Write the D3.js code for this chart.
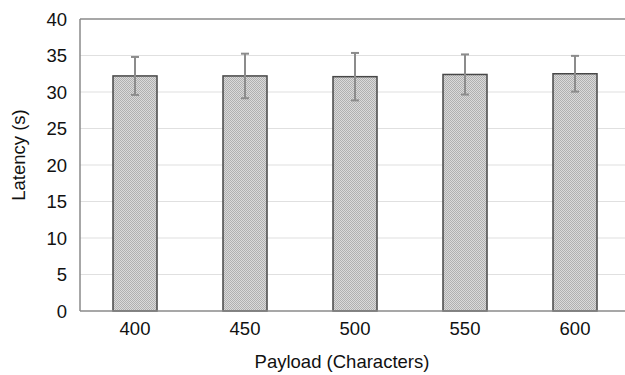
<!DOCTYPE html>
<html><head><meta charset="utf-8">
<script src="https://cdn.jsdelivr.net/npm/d3@7"></script>
<style>body{margin:0;background:#fff}svg{display:block}</style>
</head><body>
<script>
const categories = ["400","450","500","550","600"];
const values = [32.2, 32.2, 32.1, 32.4, 32.5];
const errors = [2.6, 3.05, 3.25, 2.75, 2.45];
const yTicks = [0,5,10,15,20,25,30,35,40];

const W=625,H=375;
const m={left:80,right:-5,top:19,bottom:64};
const svg=d3.select("body").append("svg").attr("width",W).attr("height",H);
const defs=svg.append("defs");
const pat=defs.append("pattern").attr("id","chk").attr("width",2).attr("height",2).attr("patternUnits","userSpaceOnUse");
pat.append("rect").attr("width",2).attr("height",2).attr("fill","#dadada");
pat.append("rect").attr("width",1).attr("height",1).attr("fill","#b0b0b0");
pat.append("rect").attr("x",1).attr("y",1).attr("width",1).attr("height",1).attr("fill","#b0b0b0");

const x=d3.scaleBand().domain(categories).range([m.left,W-m.right]).paddingInner(0.6).paddingOuter(0.3);
const y=d3.scaleLinear().domain([0,40]).range([H-m.bottom,m.top]);
const font="'Liberation Sans', Arial, Helvetica, sans-serif";

svg.append("g").selectAll("line").data(yTicks.filter(d=>d>0)).join("line")
 .attr("x1",m.left).attr("x2",W-m.right).attr("y1",d=>y(d)).attr("y2",d=>y(d))
 .attr("stroke",d=>d===40?"#8a8a8a":"#e0e0e0").attr("stroke-width",d=>d===40?1.5:1.2);
svg.append("line").attr("x1",m.left).attr("x2",m.left).attr("y1",y(40)).attr("y2",y(0)).attr("stroke","#8a8a8a").attr("stroke-width",1.5);

svg.append("g").selectAll("rect").data(values).join("rect")
 .attr("x",(d,i)=>Math.round(x(categories[i]))).attr("width",Math.round(x.bandwidth()))
 .attr("y",d=>y(d)).attr("height",d=>y(0)-y(d))
 .attr("fill","url(#chk)").attr("stroke","#474747").attr("stroke-width",1.5);

svg.append("line").attr("x1",m.left).attr("x2",W-m.right).attr("y1",y(0)).attr("y2",y(0)).attr("stroke","#8a8a8a").attr("stroke-width",1.5);

const eg=svg.append("g").attr("stroke","#8c8c8c").attr("stroke-width",2);
values.forEach((v,i)=>{
  const cx=x(categories[i])+x.bandwidth()/2;
  eg.append("line").attr("x1",cx).attr("x2",cx).attr("y1",y(v+errors[i])).attr("y2",y(v-errors[i]));
  eg.append("line").attr("x1",cx-4).attr("x2",cx+4).attr("y1",y(v+errors[i])).attr("y2",y(v+errors[i]));
  eg.append("line").attr("x1",cx-4).attr("x2",cx+4).attr("y1",y(v-errors[i])).attr("y2",y(v-errors[i]));
});

svg.append("g").selectAll("text").data(yTicks).join("text")
 .attr("x",67).attr("y",d=>y(d)).attr("dy","0.36em").attr("text-anchor","end")
 .attr("font-family",font).attr("font-size",18.5).attr("fill","#111").text(d=>d);
svg.append("g").selectAll("text").data(categories).join("text")
 .attr("x",d=>x(d)+x.bandwidth()/2).attr("y",335).attr("text-anchor","middle")
 .attr("font-family",font).attr("font-size",18.5).attr("fill","#111").text(d=>d);
svg.append("text").attr("x",342).attr("y",368).attr("text-anchor","middle")
 .attr("font-family",font).attr("font-size",18.5).attr("fill","#111").text("Payload (Characters)");
svg.append("text").attr("transform","translate(25,155) rotate(-90)").attr("text-anchor","middle")
 .attr("font-family",font).attr("font-size",18.5).attr("fill","#111").text("Latency (s)");
</script>
</body></html>
